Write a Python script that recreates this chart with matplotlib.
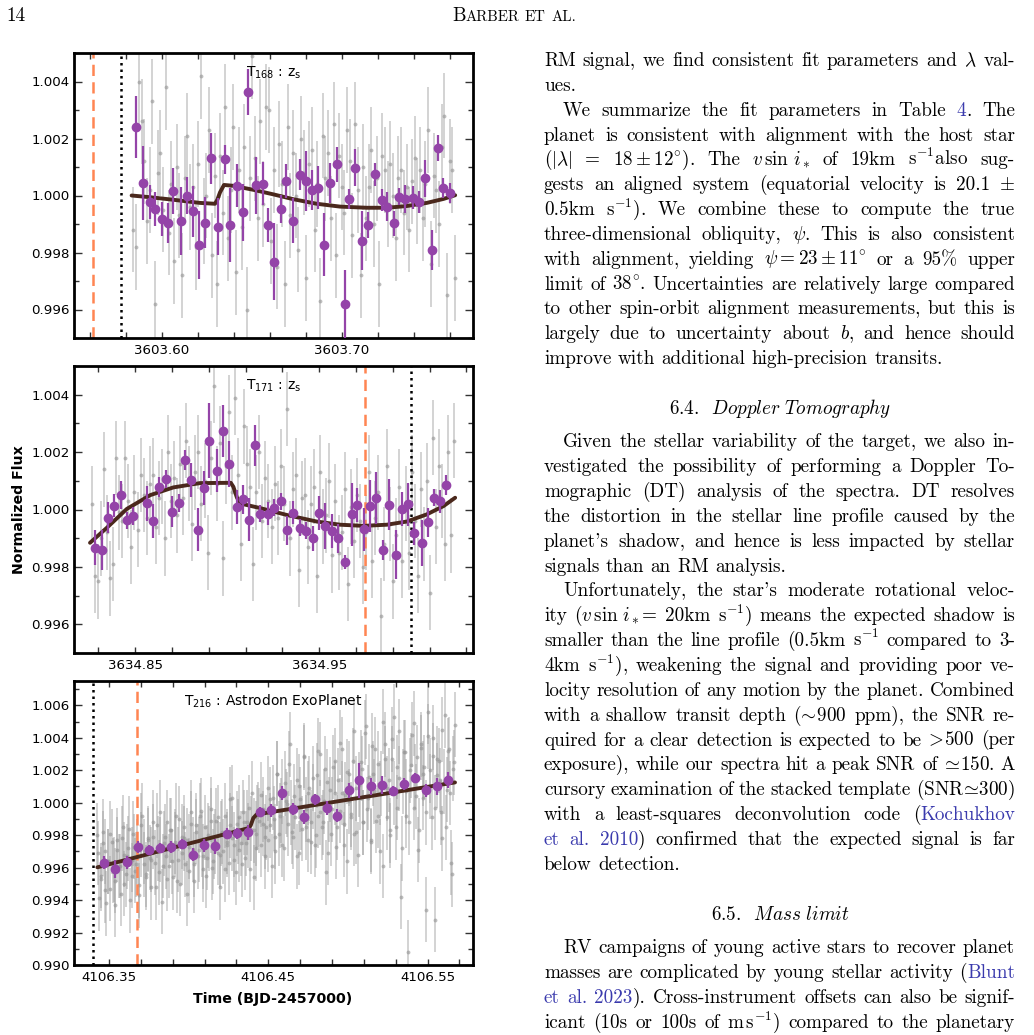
import numpy as np
import matplotlib
matplotlib.use("Agg")
import matplotlib.pyplot as plt
from matplotlib.ticker import FixedLocator, FormatStrFormatter, MultipleLocator

# ---------------- data ----------------
# panel 1 : T168
p1_x = [3603.5857, 3603.5898, 3603.5935, 3603.5961, 3603.6000, 3603.6033, 3603.6065, 3603.6107,
        3603.6141, 3603.6172, 3603.6209, 3603.6241, 3603.6276, 3603.6313, 3603.6350, 3603.6381,
        3603.6419, 3603.6452, 3603.6481, 3603.6522, 3603.6561, 3603.6591, 3603.6626, 3603.6661,
        3603.6693, 3603.6730, 3603.6769, 3603.6802, 3603.6833, 3603.6870, 3603.6904, 3603.6935,
        3603.6974, 3603.7017, 3603.7043, 3603.7076, 3603.7113, 3603.7144, 3603.7185, 3603.7222,
        3603.7254, 3603.7291, 3603.7320, 3603.7352, 3603.7394, 3603.7431, 3603.7465, 3603.7500,
        3603.7533, 3603.7563, 3603.7602]
p1_y = [1.00240, 1.00043, 0.99977, 0.99953, 0.99918, 0.99905, 1.00016, 0.99910, 0.99999, 0.99944,
        0.99826, 0.99905, 1.00131, 0.99891, 1.00127, 0.99897, 1.00035, 0.99942, 1.00363, 1.00036,
        1.00042, 0.99897, 0.99768, 0.99952, 1.00050, 0.99912, 1.00073, 1.00051, 1.00020, 1.00028,
        0.99827, 1.00043, 1.00109, 0.99619, 0.99987, 1.00098, 0.99842, 0.99897, 1.00074, 0.99984,
        0.99961, 0.99902, 0.99995, 0.99987, 0.99992, 0.99977, 1.00061, 0.99808, 1.00166, 1.00025,
        1.00008]
p1_err = [1.1, 1.3, 0.6, 0.6, 0.6, 0.7, 0.8, 1.2, 0.65, 0.9, 1.2, 0.9, 0.9, 1.0, 0.5, 1.3, 0.75,
          1.0, 0.8, 1.0, 0.75, 0.6, 1.35, 0.5, 0.6, 0.8, 0.55, 1.05, 0.7, 0.75, 1.1, 0.7, 0.6,
          1.2, 0.35, 0.65, 1.05, 0.45, 0.4, 0.4, 0.5, 0.45, 0.3, 0.5, 0.4, 0.4, 0.65, 0.7, 0.45,
          0.35, 0.35]
p1_model_x = [3603.5833, 3603.5935, 3603.6065, 3603.6213, 3603.6296, 3603.6309, 3603.6324,
              3603.6346, 3603.6398, 3603.6509, 3603.6620, 3603.6731, 3603.6861, 3603.6991,
              3603.7139, 3603.7250, 3603.7361, 3603.7472, 3603.7565, 3603.7630]
p1_model_y = [1.00000, 0.99994, 0.99985, 0.99974, 0.99971, 0.99985, 1.00011, 1.00037, 1.00034,
              1.00020, 1.00004, 0.99987, 0.99971, 0.99961, 0.99957, 0.99957, 0.99963, 0.99974,
              0.99988, 1.00001]
gray1_start, gray1_end = 3603.5843, 3603.7630
gray1_ppm = [-1200, -1800, 4000, 2600, 1200, -900, 200, 3300, -3800, 800, 1500, -500,
             3800, -1300, 400, -2300, 1000, -700, -2800, 600, 2100, -400, 300, -1800,
             1100, 4200, -900, 0, 2300, -2100, 700, -3100, 1400, -600, 3100, -1500,
             200, 2400, -2700, 900, -1100, 1700, -4000, 600, 4900, 1300, -800, 2600,
             -300, 3100, 3000, -1600, 900, -2500, 1800, 400, -3100, 2400, -700, 1500,
             0, -1900, 2000, 800, -2900, 1100, 1600, -1200, 400, -3700, 2100, 600,
             1500, -800, 2500, -2100, 1400, 300, -600, 2300, 1200, -1400, 2500, 200,
             -2800, 1000, -800, 300, 1600, -1000, 600, -3100, 1400, 900, -300, 1100,
             0, -1500, 600, 900, -600, 300, -1200, 500, 1300, -200, 900, -800,
             400, 2300, -2400, 700, 200, -1000, 1700, 2800, -3500, 1200, 900, -2900]
gray1_err = 0.0015
p1_ingress, p1_egress = 3603.5617, 3603.5772
p1_xticks = [3603.60, 3603.70]
p1_yticks = [0.996, 0.998, 1.000, 1.002, 1.004]

# panel 2 : T171
p2_x = [3634.8283, 3634.8322, 3634.8355, 3634.8388, 3634.8422, 3634.8455, 3634.8491, 3634.8563,
        3634.8596, 3634.8632, 3634.8667, 3634.8703, 3634.8737, 3634.8770, 3634.8804, 3634.8841,
        3634.8877, 3634.8902, 3634.8947, 3634.8978, 3634.9010, 3634.9051, 3634.9085, 3634.9118,
        3634.9152, 3634.9179, 3634.9223, 3634.9257, 3634.9291, 3634.9328, 3634.9360, 3634.9395,
        3634.9429, 3634.9464, 3634.9500, 3634.9533, 3634.9569, 3634.9600, 3634.9638, 3634.9681,
        3634.9707, 3634.9743, 3634.9774, 3634.9810, 3634.9846, 3634.9879, 3634.9915, 3634.9949,
        3634.9984, 3635.0018, 3635.0058, 3635.0092, 3635.0125, 3635.0158, 3635.0190]
p2_y = [0.99867, 0.99860, 0.99972, 1.00013, 1.00051, 0.99963, 0.99977, 1.00021, 0.99959, 1.00079,
        1.00106, 0.99993, 1.00023, 1.00172, 1.00102, 0.99930, 1.00074, 1.00240, 1.00135, 1.00274,
        1.00157, 1.00009, 1.00035, 0.99965, 1.00223, 0.99986, 0.99986, 1.00006, 1.00028, 0.99928,
        0.99988, 0.99937, 0.99926, 0.99899, 0.99988, 0.99943, 0.99926, 0.99900, 0.99817, 0.99983,
        1.00015, 0.99931, 1.00012, 1.00041, 0.99860, 1.00017, 0.99843, 1.00002, 1.00019, 0.99917,
        0.99884, 0.99955, 1.00041, 1.00028, 1.00086]
p2_err = [0.6, 0.7, 0.55, 0.4, 0.5, 0.3, 0.3, 0.6, 0.6, 0.35, 0.3, 0.55, 0.3, 0.35, 0.6, 0.75,
          0.6, 1.3, 0.75, 0.9, 0.8, 0.6, 0.5, 0.75, 0.7, 0.3, 0.4, 0.3, 0.3, 0.5, 0.4, 0.3, 0.3,
          0.45, 0.6, 0.8, 0.6, 0.5, 0.25, 1.1, 0.6, 0.75, 0.9, 0.9, 0.35, 0.9, 0.85, 0.6, 0.75,
          0.4, 0.8, 0.5, 0.3, 0.4, 0.35]
p2_model_x = [3634.8255, 3634.8346, 3634.8455, 3634.8582, 3634.8708, 3634.8853, 3634.9020,
              3634.9034, 3634.9053, 3634.9071, 3634.9179, 3634.9324, 3634.9487, 3634.9614,
              3634.9741, 3634.9868, 3634.9976, 3635.0085, 3635.0176, 3635.0239]
p2_model_y = [0.99884, 0.99936, 1.00002, 1.00050, 1.00077, 1.00092, 1.00093, 1.00079, 1.00042,
              1.00021, 1.00005, 0.99981, 0.99958, 0.99947, 0.99943, 0.99947, 0.99958, 0.99983,
              1.00012, 1.00041]
gray2_start, gray2_end = 3634.8265, 3635.0234
gray2_ppm = [200, -2300, -2500, -1000, 1400, -800, -2400, -1900, 1800, -100,
             -400, 1800, 300, -1300, 600, -700, 1200, 500, -300, 900,
             1200, -600, 400, 800, -1000, 2000, 300, 1100, -200, 1600,
             400, 2400, 900, -500, 1300, 2000, 200, 1000, -1500, 1800,
             4300, 900, 2300, -1700, 1500, 3400, 600, 3900, 1200, -1200,
             2900, 1600, 800, -1900, 600, 2000, -400, 1100, 300, -600,
             900, -300, 1500, 200, 3500, -1000, 700, 1200, -2100, 400,
             500, -1300, 200, 800, -2300, 1300, -600, -200, 1000, -1600,
             300, -1500, -800, 700, -2600, 100, -1100, 500, -400, -2000,
             -800, 1300, -1800, -300, 600, -3700, -1200, 1500, -500, -2500,
             -900, 800, -1800, 200, -1500, 1300, -400, -2300, 700, -1200,
             1000, -2900, 2500, -600, 1500, 300, -1200, 2000, -900, 2400]
gray2_err = 0.0013
p2_ingress, p2_egress = 3634.9750, 3635.0000
p2_xticks = [3634.85, 3634.95]
p2_yticks = [0.996, 0.998, 1.000, 1.002, 1.004]

# panel 3 : T216
p3_x = [4106.3469, 4106.3538, 4106.3611, 4106.3680, 4106.3751, 4106.3820, 4106.3889, 4106.3958,
        4106.4029, 4106.4098, 4106.4167, 4106.4238, 4106.4305, 4106.4374, 4106.4448, 4106.4517,
        4106.4588, 4106.4653, 4106.4724, 4106.4793, 4106.4866, 4106.4933, 4106.5004, 4106.5071,
        4106.5142, 4106.5211, 4106.5285, 4106.5354, 4106.5423, 4106.5490, 4106.5556, 4106.5630]
p3_y = [0.99630, 0.99589, 0.99634, 0.99728, 0.99708, 0.99724, 0.99728, 0.99747, 0.99679, 0.99738,
        0.99732, 0.99810, 0.99812, 0.99818, 0.99941, 0.99953, 1.00059, 0.99961, 0.99912, 1.00020,
        0.99967, 0.99920, 1.00076, 1.00137, 1.00100, 1.00110, 1.00074, 1.00116, 1.00153, 1.00076,
        1.00100, 1.00141]
p3_err = [0.4, 0.55, 0.4, 0.35, 0.3, 0.3, 0.35, 0.3, 0.4, 0.4, 0.45, 0.35, 0.35, 0.45, 0.3, 0.4,
          0.45, 0.35, 0.45, 0.35, 0.45, 0.4, 0.45, 1.1, 0.5, 0.55, 0.3, 0.35, 0.3, 0.4, 0.55, 0.5]
p3_model_x = [4106.3427, 4106.4374, 4106.4389, 4106.4406, 4106.4427, 4106.5672]
p3_model_y = [0.99602, 0.99843, 0.99859, 0.99906, 0.99928, 1.00125]
gray3_start, gray3_end = 4106.3427, 4106.5672
gray3_ppm = [-2000, -5900, -4500, -1800, -3000, -6200, -3600, -5300, -2400, -4100,
             -4800, -2300, -3900, -5600, -1500, -3200, -4400, -2800, -6000, -3500,
             -1900, -4200, -3000, -5100, -2600, -800, -3800, -4600, -2200, -3400,
             -5200, -2100, -3700, -1400, -4300, -2900, -6100, -2500, -3300, -1200,
             -3900, -1700, -4600, -2600, -800, -3500, -5000, -2100, -1500, -3800,
             -2300, -4200, -600, -2900, -4800, -1800, -3300, -800, -2600, -4100,
             -1500, -3400, -2200, -400, -4000, -2700, -1100, -3100, -5200, -1900,
             -3000, -800, -2400, -3700, -1400, 300, -2600, -4300, -1800, -900,
             -2500, -600, -3400, -1200, -2000, -4100, 600, -1700, -2800, -900,
             -1100, -2600, -400, -3300, -1500, -2300, 200, -3900, -1000, -2100,
             1800, -1900, -500, 700, -2800, 100, -1300, 3600, -600, -2100,
             -900, 1400, -3100, 200, -1600, 2900, -400, -2300, 900, -1200,
             400, -2600, 1700, -800, 3000, -1500, 100, -4300, 1300, -400,
             -1900, 2200, 600, -2700, 1400, -500, 3300, -1300, 500, -3600,
             1800, -700, 2600, -1900, 900, -3200, 300, 2100, -1200, 4300,
             -400, 1600, -2300, 3500, 700, -1100, 2400, -3000, 1200, 5000,
             2700, -900, 1400, -2000, 3900, 600, -1500, 2200, 4400, -5800,
             1300, 3100, -800, -9200, 2000, 4200, -300, 1600, 2800, -1700,
             3400, 300, 2200, -6600, 4100, 1000, -900, 2900, -7200, 1700,
             2600, -600, 4500, 1300, -1500, 3200, 600, -3700, 2100, 4800]
# second interleaved set of exposures (same night)
gray3b_start, gray3b_end = 4106.3432, 4106.5667
gray3b_ppm = [-3100, -4700, -2500, -5400, -3600, -1900, -4200, -6300, -2900, -3900,
              -2200, -5000, -3300, -1600, -4500, -2700, -3800, -5700, -1400, -3000,
              -4400, -2300, -3500, -1200, -5200, -2800, -600, -3900, -2100, -4700,
              -1700, -3600, -2400, -4800, -1000, -3100, -2200, -5600, -2700, -1300,
              -3800, -1400, -2900, -500, -3300, -4500, -2000, -1100, -3600, -2400,
              -900, -3200, -1800, -4100, -2600, 200, -2200, -3500, -1300, -2900,
              -3800, -1200, -2500, -300, -1600, -4600, -1900, -700, 500, -1300,
              -2100, 900, -1400, 300, -3000, 1800, -800, -2600, 1200, -100,
              2400, -1800, 400, -3300, 1000, -900, 2800, -1500, 600, -2400,
              1500, -2000, 3200, -600, -1200, 2100, -3100, 800, -400, 2600,
              -1500, 3700, 600, -2600, 1900, 100, -900, 4400, -1800, 1100,
              2500, -1200, 4700, 300, -2400, 1800, 3300, -800, 600, -3900,
              3600, 900, -1700, 2700, 5300, -300, 1500, -2800, 3100, 700,
              -1200, 2300, 4900, 400, -2900, 3600, 1800, -600, 5600, 2000,
              4000, -300, 2700, 1400, -2200, 5400, 800, 3300, -4400, 2500]
gray3_err = 0.0020
p3_ingress, p3_egress = 4106.3678, 4106.3397
p3_xticks = [4106.35, 4106.45, 4106.55]
p3_yticks = [0.990, 0.992, 0.994, 0.996, 0.998, 1.000, 1.002, 1.004, 1.006]

panel_titles = ["T$_{168}$ : z$_\\mathrm{s}$", "T$_{171}$ : z$_\\mathrm{s}$",
                "T$_{216}$ : Astrodon ExoPlanet"]

# ---------------- page text ----------------
body_lines = [
    ("RM signal, we find consistent fit parameters and $\\lambda$ val-", 0, True),
    ("ues.", 0, False),
    ("We summarize the fit parameters in Table @4#. The", 19, True),
    ("planet is consistent with alignment with the host star", 0, True),
    ("($|\\lambda|$ = $18\\pm12^{\\circ}$). The $v\\,\\sin\\,i_*$ of 19km s$^{-1}$also sug-", 0, True),
    ("gests an aligned system (equatorial velocity is 20.1 $\\pm$", 0, True),
    ("0.5km s$^{-1}$). We combine these to compute the true", 0, True),
    ("three-dimensional obliquity, $\\psi$. This is also consistent", 0, True),
    ("with alignment, yielding $\\psi=23\\pm11^{\\circ}$ or a 95% upper", 0, True),
    ("limit of 38$^{\\circ}$. Uncertainties are relatively large compared", 0, True),
    ("to other spin-orbit alignment measurements, but this is", 0, True),
    ("largely due to uncertainty about $b$, and hence should", 0, True),
    ("improve with additional high-precision transits.", 0, False),
]
body_lines2 = [
    ("Given the stellar variability of the target, we also in-", 19, True),
    ("vestigated the possibility of performing a Doppler To-", 0, True),
    ("mographic (DT) analysis of the spectra. DT resolves", 0, True),
    ("the distortion in the stellar line profile caused by the", 0, True),
    ("planet's shadow, and hence is less impacted by stellar", 0, True),
    ("signals than an RM analysis.", 0, False),
    ("Unfortunately, the star's moderate rotational veloc-", 19, True),
    ("ity ($v\\,\\sin\\,i_*$= 20km s$^{-1}$) means the expected shadow is", 0, True),
    ("smaller than the line profile (0.5km s$^{-1}$ compared to 3-", 0, True),
    ("4km s$^{-1}$), weakening the signal and providing poor ve-", 0, True),
    ("locity resolution of any motion by the planet. Combined", 0, True),
    ("with a shallow transit depth ($\\!\\sim\\!$900 ppm), the SNR re-", 0, True),
    ("quired for a clear detection is expected to be $\\!>\\!$500 (per", 0, True),
    ("exposure), while our spectra hit a peak SNR of $\\!\\simeq\\!$150. A", 0, True),
    ("cursory examination of the stacked template (SNR$\\!\\simeq\\!$300)", 0, True),
    ("with a least-squares deconvolution code (#@Kochukhov", 0, True),
    ("@et @al. @2010#) confirmed that the expected signal is far", 0, True),
    ("below detection.", 0, False),
]
body_lines3 = [
    ("RV campaigns of young active stars to recover planet", 19, True),
    ("masses are complicated by young stellar activity (#@Blunt", 0, True),
    ("@et @al. @2023#). Cross-instrument offsets can also be signif-", 0, True),
    ("icant (10s or 100s of m$\\,$s$^{-1}$) compared to the planetary", 0, True),
]
heading1 = "6.4.  $\\mathit{Doppler\\ Tomography}$"
heading2 = "6.5.  $\\mathit{Mass\\ limit}$"

# ---------------- figure ----------------
W, H = 1034, 1035
fig = plt.figure(figsize=(W / 100, H / 100), dpi=100)
renderer = fig.canvas.get_renderer()

PURPLE = '#9444a8'
BROWN = '#4a281c'
ORANGE = '#ff8552'
BLUE = '#3a3aad'

panels = [
    (53, 338, p1_x, p1_y, p1_err, p1_model_x, p1_model_y, [(gray1_start, gray1_end, gray1_ppm)],
     gray1_err, p1_ingress, p1_egress, p1_xticks, p1_yticks, (3603.5513, 3603.7729), (0.995, 1.005)),
    (366, 653, p2_x, p2_y, p2_err, p2_model_x, p2_model_y, [(gray2_start, gray2_end, gray2_ppm)],
     gray2_err, p2_ingress, p2_egress, p2_xticks, p2_yticks, (3634.8168, 3635.0336), (0.995, 1.005)),
    (681, 965, p3_x, p3_y, p3_err, p3_model_x, p3_model_y,
     [(gray3_start, gray3_end, gray3_ppm), (gray3b_start, gray3b_end, gray3b_ppm)],
     gray3_err, p3_ingress, p3_egress, p3_xticks, p3_yticks, (4106.3280, 4106.5785), (0.990, 1.0075)),
]

for i, (top, bot, px, py, perr, mx, my, gsets, gerr, t_or, t_bk, xt, yt, xl, yl) in enumerate(panels):
    ax = fig.add_axes([74 / W, 1 - bot / H, 399 / W, (bot - top) / H])
    for g0, g1, gppm in gsets:
        gt = np.linspace(g0, g1, len(gppm))
        gf = 1 + np.array(gppm) * 1e-6
        ax.errorbar(gt, gf, yerr=gerr, fmt='o', ms=2.8, mfc=(0.58, 0.58, 0.58, 0.6), mec='none',
                    ecolor=(0.62, 0.62, 0.62, 0.45), elinewidth=1.4, capsize=0, zorder=1)
    ax.plot(mx, my, color=BROWN, lw=2.8, zorder=3, solid_capstyle='round')
    ax.errorbar(px, py, yerr=np.array(perr) * 1e-3, fmt='o', ms=6, color=PURPLE,
                elinewidth=1.6, capsize=0, zorder=4)
    ax.axvline(t_or, color=ORANGE, ls=(0, (4.5, 2.5)), lw=1.8, zorder=2)
    ax.axvline(t_bk, color='black', ls=(0, (1, 1.6)), lw=1.8, zorder=2)
    ax.set_xlim(*xl)
    ax.set_ylim(*yl)
    minor = np.arange(xt[0] - 0.1, xl[1], 0.02)
    minor = minor[minor > xl[0] + 0.004]
    ax.xaxis.set_major_locator(FixedLocator(xt))
    ax.xaxis.set_major_formatter(FormatStrFormatter('%.2f'))
    ax.xaxis.set_minor_locator(FixedLocator(minor))
    ax.yaxis.set_major_locator(FixedLocator(yt))
    ax.yaxis.set_major_formatter(FormatStrFormatter('%.3f'))
    ax.yaxis.set_minor_locator(MultipleLocator(0.001))
    ax.tick_params(which='both', direction='in', top=True, right=True, labelsize=9.6,
                   width=1.0, color='#333333')
    ax.tick_params(axis='x', which='both', length=4, pad=4)
    ax.tick_params(axis='y', which='major', length=6, pad=3)
    ax.tick_params(axis='y', which='minor', length=3.5)
    for s in ax.spines.values():
        s.set_linewidth(2.0)
    ax.text(0.5, 0.93, panel_titles[i], transform=ax.transAxes, ha='center', va='center',
            fontsize=10, math_fontfamily='dejavusans', zorder=5)

fig.text(19.5 / W, 1 - 510 / H, "Normalized Flux", rotation=90, ha='center', va='center',
         fontsize=10.2, fontweight='bold')
fig.text(273 / W, 1 - 999 / H, "Time (BJD-2457000)", ha='center', va='center',
         fontsize=10.2, fontweight='bold')

# ---------------- text column helpers ----------------
FS = 13.8
COL_L, COL_R = 544, 1015


def make_text(s, size, color='black'):
    t = fig.text(0, 0, s, fontsize=size, family='cmr10', math_fontfamily='cm',
                 color=color, ha='left', va='baseline')
    return t, t.get_window_extent(renderer).width


def place_line(line, y_base, indent, justify):
    items = []
    total = 0.0
    for word in line.split(' '):
        segs = []
        for seg in word.split('#'):
            if seg == '':
                continue
            col = 'black'
            if seg.startswith('@'):
                seg, col = seg[1:], BLUE
            segs.append(make_text(seg, FS, col))
        items.append(segs)
        total += sum(w for _, w in segs)
    x0 = COL_L + indent
    if justify and len(items) > 1:
        gap = (COL_R - x0 - total) / (len(items) - 1)
    else:
        gap = FS * 100 / 72 * 0.333
    x = x0
    for segs in items:
        for t, w in segs:
            t.set_position((x / W, 1 - y_base / H))
            x += w
        x += gap


LS = 24.85
for k, (line, ind, just) in enumerate(body_lines):
    place_line(line, 66 + k * LS, ind, just)
for k, (line, ind, just) in enumerate(body_lines2):
    place_line(line, 447.3 + k * LS, ind, just)
for k, (line, ind, just) in enumerate(body_lines3):
    place_line(line, 953.3 + k * LS, ind, just)

fig.text(780 / W, 1 - 414 / H, heading1, fontsize=FS, family='cmr10', math_fontfamily='cm',
         ha='center', va='baseline')
fig.text(780 / W, 1 - 920 / H, heading2, fontsize=FS, family='cmr10', math_fontfamily='cm',
         ha='center', va='baseline')

# running head
fig.text(6 / W, 1 - 21 / H, "14", fontsize=FS, family='cmr10', ha='left', va='baseline')
head = [("B", FS), ("ARBER", FS * 0.78), (" ", FS * 0.78), ("ET", FS * 0.78),
        (" ", FS * 0.78), ("AL.", FS * 0.78)]
parts = [make_text(s, sz) for s, sz in head]
total_w = sum(w for _, w in parts) + 2 * FS * 0.78 * 100 / 72 * 0.35
x = 519 - total_w / 2
for (t, w), (s, sz) in zip(parts, head):
    if s == " ":
        x += FS * 0.78 * 100 / 72 * 0.35
        t.set_visible(False)
        continue
    t.set_position((x / W, 1 - 21 / H))
    x += w

fig.savefig("out.png", dpi=100)
